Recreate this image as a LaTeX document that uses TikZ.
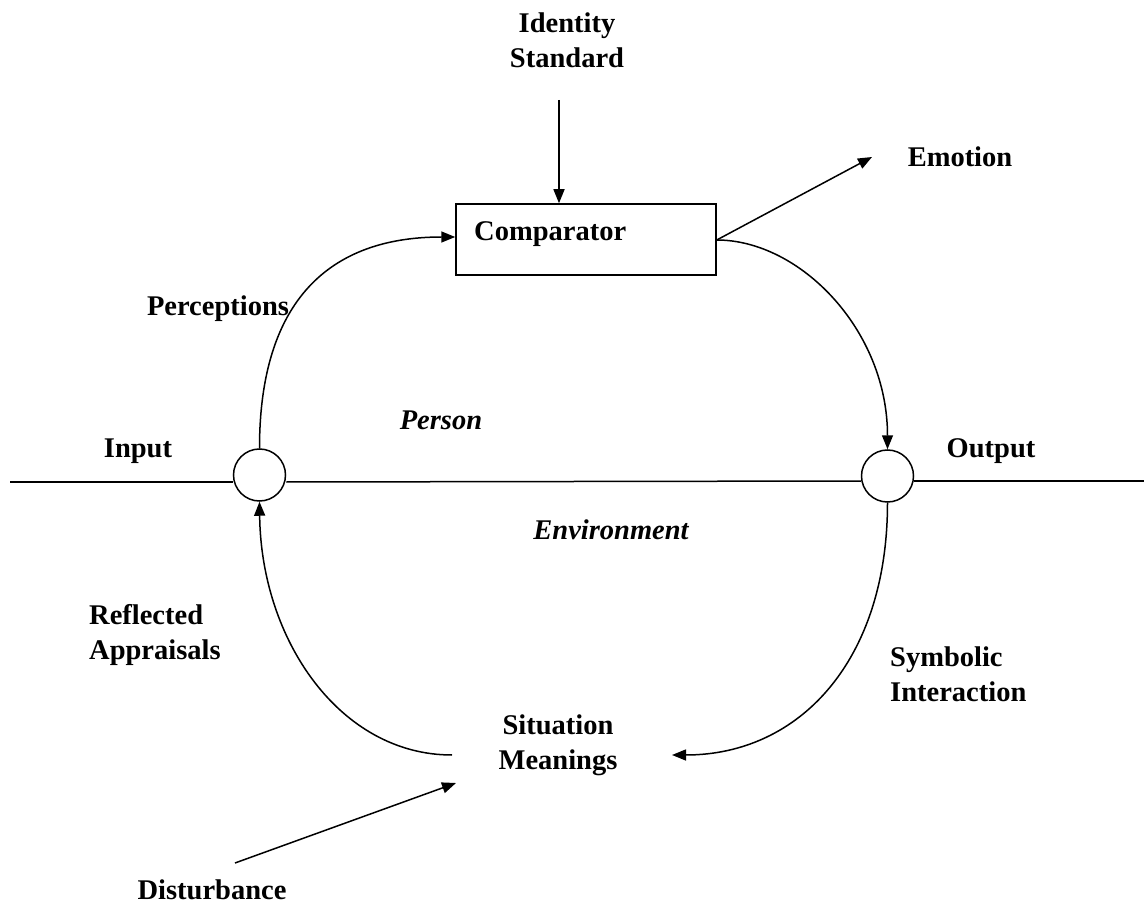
\documentclass[tikz,border=0pt]{standalone}
\usepackage{fontspec}
\setmainfont{Liberation Serif}
\usetikzlibrary{arrows.meta}
\begin{document}
\begin{tikzpicture}[x=1pt,y=-1pt,
  lbl/.style={font=\fontsize{28.5}{35}\selectfont\bfseries, inner sep=0pt},
  ilbl/.style={font=\fontsize{28.5}{35}\selectfont\bfseries\itshape, inner sep=0pt},
  conn/.style={line width=1.5pt, -{Triangle[length=14pt,width=11pt]}},
  plain/.style={line width=1.5pt},
  junction/.style={circle, draw, line width=1.5pt, minimum size=52pt, inner sep=0pt, fill=white}]
\useasboundingbox (0,0) rectangle (1144,909);
% texts
\node[lbl, align=center] (ids) at (567,40) {Identity\\Standard};
\node[lbl] (emo) at (960,157) {Emotion};
\node[lbl] (perc) at (218,309) {Perceptions};
\node[lbl] (inp) at (138,451) {Input};
\node[lbl] (outp) at (991,451) {Output};
\node[ilbl] (pers) at (441,420) {Person};
\node[ilbl] (env) at (611,530) {Environment};
\node[lbl, align=left, anchor=west] (refl) at (89,635) {Reflected\\Appraisals};
\node[lbl, align=left, anchor=west] (symb) at (890,674) {Symbolic\\Interaction};
\node[lbl, align=center] (sit) at (558,745) {Situation\\Meanings};
\node[lbl] (dist) at (212,890) {Disturbance};
% comparator box
\node[draw, line width=1.5pt, minimum width=260pt, minimum height=71pt, inner sep=0pt] (comp) at (586,239.5) {};
\node[lbl, anchor=west] (comptxt) at (474,234) {Comparator};
% junctions
\node[junction] (jl) at (259.5,475) {};
\node[junction] (jr) at (887.5,476) {};
\coordinate (lend) at (10,482);
\coordinate (rend) at (1144,481);
\draw[plain] (lend) -- (jl.west |- lend);
\draw[plain] (jl.east |- lend) -- (jr.west |- rend);
\draw[plain] (jr.east |- rend) -- (rend);
% arrows
\coordinate (idsbot) at (559,100);
\draw[conn] (idsbot) -- (comp.north -| idsbot);
\coordinate (emoarr) at (872,157);
\draw[conn] (comp.east |- 0,240) -- (emoarr);
\coordinate (compin) at (454,237);
\draw[conn] (jl.north) .. controls (259.5,300) and (330,237) .. (comp.west |- compin);
\draw[conn] (comp.east |- 0,240) .. controls (800,240) and (887.5,330) .. (jr.north);
\coordinate (sitin) at (672,755);
\draw[conn] (jr.south) .. controls (887.5,660) and (800,755) .. (sitin);
\coordinate (sitout) at (452,755);
\draw[conn] (sitout) .. controls (340,755) and (261,640) .. (jl.south);
\coordinate (diststart) at (235,863);
\coordinate (distend) at (456,783);
\draw[conn] (diststart) -- (distend);
\end{tikzpicture}
\end{document}
